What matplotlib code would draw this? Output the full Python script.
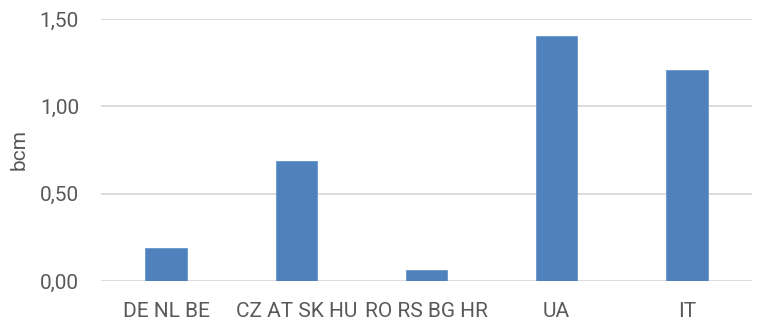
import matplotlib.pyplot as plt
from matplotlib.ticker import FuncFormatter

regioni = ['DE NL BE', 'CZ AT SK HU', 'RO RS BG HR', 'UA', 'IT']
valori = [0.187, 0.689, 0.063, 1.402, 1.206]
yticks = [0.0, 0.5, 1.0, 1.5]

plt.rcParams['font.family'] = ['Roboto', 'DejaVu Sans']
grigio = '#595959'

fig = plt.figure(figsize=(7.61, 3.27), dpi=100)
ax = fig.add_axes([0.133, 0.141, 0.855, 0.801])

x = range(len(regioni))
ax.bar(x, valori, width=0.32, color='#4F81BD', edgecolor='#6A96CC', linewidth=0.6, zorder=3)

ax.set_xlim(-0.5, len(regioni) - 0.5)
ax.set_ylim(0, 1.5)
ax.set_yticks(yticks)
ax.yaxis.set_major_formatter(FuncFormatter(lambda v, p: f'{v:.2f}'.replace('.', ',')))
ax.set_xticks(list(x))
ax.set_xticklabels(regioni)

ax.grid(axis='y', color='#D9D9D9', linewidth=1.3, zorder=0)
for s in ax.spines.values():
    s.set_visible(False)
ax.tick_params(length=0, labelsize=15, colors=grigio)
ax.tick_params(axis='x', pad=15)
ax.tick_params(axis='y', pad=16)
ax.set_ylabel('bcm', fontsize=15, color=grigio)
ax.yaxis.set_label_coords(-0.112, 0.5)

fig.savefig('out.png', dpi=100)
